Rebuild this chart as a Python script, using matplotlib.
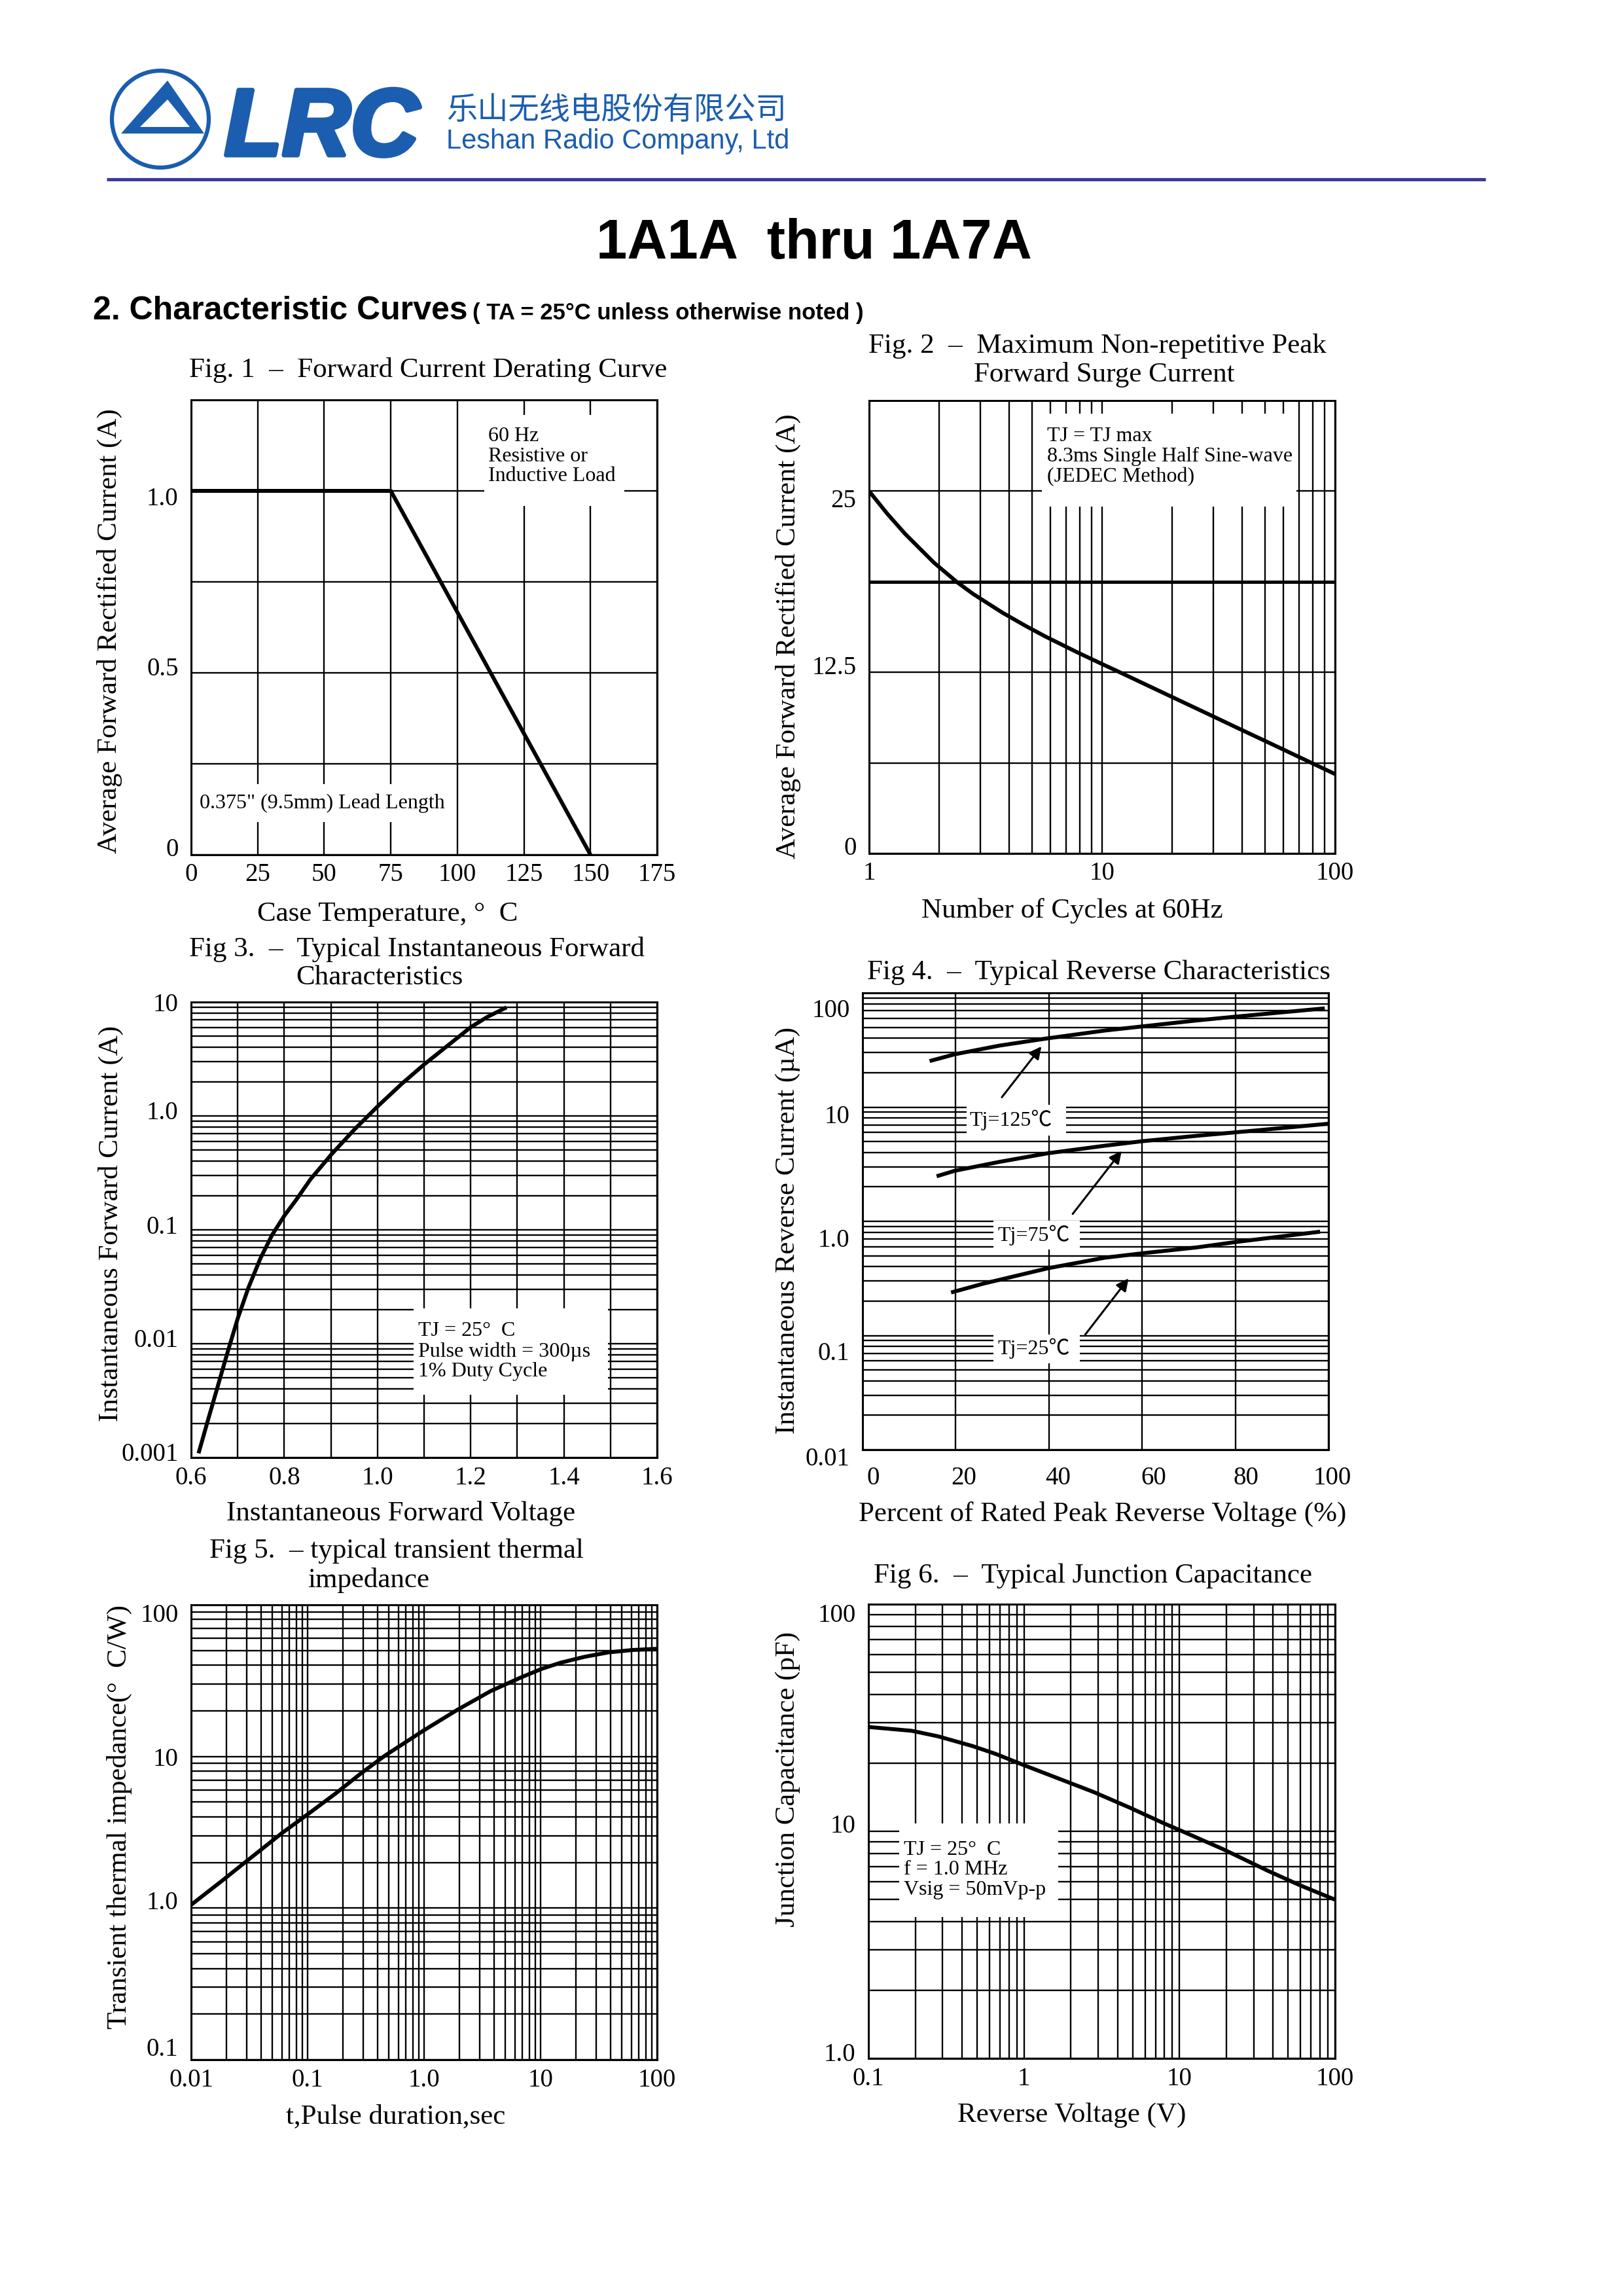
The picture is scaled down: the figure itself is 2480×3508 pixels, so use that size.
import matplotlib
matplotlib.use("Agg")
import matplotlib.pyplot as plt
import matplotlib.patheffects as pe
from matplotlib.patches import Circle, Polygon, Rectangle
from matplotlib.ticker import NullFormatter
from matplotlib.transforms import ScaledTranslation

plt.rcParams["font.family"] = ["Liberation Serif", "Noto Sans CJK SC"]

W, H = 2480, 3508

# Fig. 1 - forward current derating curve
fig1_temp = [0, 75, 150]
fig1_current = [1.0, 1.0, 0.0]
fig1_xticks = [0, 25, 50, 75, 100, 125, 150, 175]
fig1_xlabels = ["0", "25", "50", "75", "100", "125", "150", "175"]
fig1_yticks = [0, 0.25, 0.5, 0.75, 1.0]
fig1_ylabels = ["0", "", "0.5", "", "1.0"]

# Fig. 2 - peak forward surge current
fig2_cycles = [1, 1.2, 1.43, 1.9, 2.39, 2.8, 3.73, 4.7, 5.68, 7.78, 10, 11.6,
               19.3, 28.3, 37.9, 47.5, 57.7, 79, 100]
fig2_current = [25.0, 23.42, 22.04, 20.06, 18.71, 17.90, 16.62, 15.70, 14.99, 13.90, 13.07, 12.59,
                10.91, 9.65, 8.68, 7.94, 7.30, 6.26, 5.48]
fig2_xticks = [1, 10, 100]
fig2_xlabels = ["1", "10", "100"]
fig2_xgrid = [2, 3, 4, 5, 6, 7, 8, 9, 20, 30, 40, 50, 60, 70, 80, 90]
fig2_yticks = [0, 6.25, 12.5, 18.75, 25]
fig2_ylabels = ["0", "", "12.5", "", "25"]

# Fig. 3 - forward characteristics
fig3_volt = [0.616, 0.635, 0.657, 0.679, 0.700, 0.723, 0.749, 0.774, 0.801, 0.825,
             0.856, 0.901, 0.951, 1.001, 1.053, 1.101, 1.147, 1.200, 1.236, 1.277]
fig3_current = [0.00109, 0.00205, 0.0042, 0.0086, 0.0166, 0.0310, 0.0564, 0.0904, 0.1346, 0.182,
                0.277, 0.459, 0.764, 1.22, 1.93, 2.85, 4.03, 6.01, 7.41, 8.98]
fig3_xticks = [0.6, 0.8, 1.0, 1.2, 1.4, 1.6]
fig3_xlabels = ["0.6", "0.8", "1.0", "1.2", "1.4", "1.6"]
fig3_xgrid = [0.7, 0.9, 1.1, 1.3, 1.5]
fig3_yticks = [0.001, 0.01, 0.1, 1, 10]
fig3_ylabels = ["0.001", "0.01", "0.1", "1.0", "10"]

# Fig. 4 - reverse characteristics
fig4_pct_125 = [14.4, 19.8, 29.3, 39.9, 52.0, 59.9, 71.6, 80.0, 99.2]
fig4_ir_125 = [25.3, 29.0, 34.5, 40.1, 46.8, 50.8, 57.3, 61.9, 73.2]
fig4_pct_75 = [15.9, 19.8, 29.3, 39.9, 52.0, 59.9, 71.6, 80.0, 100]
fig4_ir_75 = [2.48, 2.77, 3.31, 3.95, 4.59, 5.02, 5.60, 6.01, 7.15]
fig4_pct_25 = [19.0, 26.0, 39.9, 52.0, 59.9, 71.6, 80.0, 98.2]
fig4_ir_25 = [0.238, 0.285, 0.389, 0.480, 0.524, 0.590, 0.658, 0.811]
fig4_xticks = [0, 20, 40, 60, 80, 100]
fig4_xlabels = ["0", "20", "40", "60", "80", "100"]
fig4_yticks = [0.01, 0.1, 1, 10, 100]
fig4_ylabels = ["0.01", "0.1", "1.0", "10", "100"]
fig4_arrows = {
    "125": ((29.9, 12.2), (38.4, 34.0)),
    "75": ((45.1, 1.16), (55.6, 4.13)),
    "25": ((47.8, 0.102), (57.1, 0.316)),
}

# Fig. 5 - transient thermal impedance
fig5_t = [0.01, 0.01875, 0.0285, 0.0446, 0.0601, 0.1, 0.1767, 0.285, 0.459, 1.0,
          1.93, 3.73, 6.78, 10.2, 14.8, 23.8, 38.4, 62, 100]
fig5_z = [1.05, 1.53, 1.98, 2.60, 3.12, 4.15, 5.75, 7.70, 10.1, 14.9,
          20.3, 27.0, 33.2, 37.8, 41.5, 45.4, 48.6, 50.4, 51.3]
fig5_xticks = [0.01, 0.1, 1, 10, 100]
fig5_xlabels = ["0.01", "0.1", "1.0", "10", "100"]
fig5_yticks = [0.1, 1, 10, 100]
fig5_ylabels = ["0.1", "1.0", "10", "100"]

# Fig. 6 - junction capacitance
fig6_v = [0.1, 0.19, 0.28, 0.47, 0.66, 0.99, 1.9, 2.8, 4.8, 7.8, 10.6, 19, 37, 59, 100]
fig6_c = [28.8, 27.7, 26.2, 23.7, 21.9, 19.6, 16.5, 14.9, 12.7, 10.9, 9.95, 8.35, 6.7, 5.8, 5.0]
fig6_xticks = [0.1, 1, 10, 100]
fig6_xlabels = ["0.1", "1", "10", "100"]
fig6_yticks = [1, 10, 100]
fig6_ylabels = ["1.0", "10", "100"]


def log_minor(lo, hi):
    return [m * 10.0 ** e for e in range(lo, hi) for m in range(2, 10)]


fig = plt.figure(figsize=(W / 100, H / 100), dpi=100)
bg = fig.add_axes([0, 0, 1, 1])
bg.set_xlim(0, W)
bg.set_ylim(H, 0)
bg.axis("off")

# header
blue = "#1B5DAE"
bg.add_patch(Circle((245, 182), 74, fill=False, ec=blue, lw=4.5))
bg.add_patch(Polygon([(256, 123), (185, 204), (312, 204)], closed=True, fc=blue, ec="none"))
bg.add_patch(Polygon([(256, 152), (214, 194), (290, 194)], closed=True, fc="white", ec="none"))
bg.text(343, 237, "LRC", family="Liberation Sans", fontsize=104, fontweight="bold",
        style="italic", color=blue, va="baseline",
        path_effects=[pe.withStroke(linewidth=5, foreground=blue)])
bg.text(682, 169, "乐山无线电股份有限公司", family="Noto Sans CJK SC", fontsize=34,
        color=blue, va="center")
bg.text(682, 227, "Leshan Radio Company, Ltd", family="Liberation Sans", fontsize=30,
        color=blue, va="baseline")
bg.plot([163, 2270], [274, 274], color="#3B3B98", lw=3.6, solid_capstyle="butt")
bg.text(1244, 395, "1A1A  thru 1A7A", family="Liberation Sans", fontsize=61,
        fontweight="bold", ha="center", va="baseline")
bg.text(142, 488, "2. Characteristic Curves", family="Liberation Sans", fontsize=36,
        fontweight="bold", va="baseline")
bg.text(722, 488, "( TA = 25°C unless otherwise noted )", family="Liberation Sans",
        fontsize=25, fontweight="bold", va="baseline")


def make_axes(box):
    l, t, r, b = box
    ax = fig.add_axes([l / W, 1 - b / H, (r - l) / W, (b - t) / H])
    for s in ax.spines.values():
        s.set_linewidth(2.2)
    ax.tick_params(which="both", length=0, labelsize=28)
    ax.tick_params(axis="x", pad=9)
    ax.tick_params(axis="y", pad=14)
    ax.set_axisbelow(True)
    return ax


def finish(ax):
    ax.grid(which="both", color="black", linewidth=1.7)
    ax.xaxis.set_minor_formatter(NullFormatter())
    ax.yaxis.set_minor_formatter(NullFormatter())


def shift_labels(labels, offsets):
    # offsets in pixels, dy > 0 moves down
    for lab, (dx, dy) in zip(labels, offsets):
        lab.set_transform(lab.get_transform()
                          + ScaledTranslation(dx / 100, -dy / 100, fig.dpi_scale_trans))


def white_box(ax, x0, y0, x1, y1):
    ax.add_patch(Rectangle((x0, y0), x1 - x0, y1 - y0, transform=ax.transAxes,
                           fc="white", ec="none", zorder=1.5))


def note(ax, x, y, s, va="center"):
    ax.text(x, y, s, transform=ax.transAxes, fontsize=23, va=va, ha="left",
            linespacing=1.08, zorder=4)


def ylabel(x, y, s):
    bg.text(x, y, s, rotation=90, ha="center", va="center", fontsize=31)


def label(x, y, s, ha="left"):
    bg.text(x, y, s, ha=ha, va="baseline", fontsize=31)


curve = dict(color="black", lw=4.3, zorder=3, solid_capstyle="butt", solid_joinstyle="round")

# ---- Fig. 1
ax1 = make_axes((292, 611, 1004, 1306))
ax1.plot(fig1_temp, fig1_current, **curve)
ax1.set_xlim(0, 175)
ax1.set_ylim(0, 1.25)
ax1.set_xticks(fig1_xticks, fig1_xlabels)
ax1.set_yticks(fig1_yticks, fig1_ylabels)
finish(ax1)
shift_labels(ax1.get_yticklabels(), [(0, -12), (0, 0), (0, -10), (0, 0), (0, 8)])
white_box(ax1, 0.629, 0.767, 0.930, 0.967)
note(ax1, 0.638, 0.876, "60 Hz\nResistive or\nInductive Load")
white_box(ax1, 0.010, 0.072, 0.555, 0.155)
note(ax1, 0.018, 0.114, "0.375\" (9.5mm) Lead Length")
label(289, 576, "Fig. 1  –  Forward Current Derating Curve")
label(393, 1407, "Case Temperature, °  C")
ylabel(167, 964, "Average Forward Rectified Current (A)")

# ---- Fig. 2
ax2 = make_axes((1328, 612, 2040, 1304))
ax2.plot(fig2_cycles, fig2_current, **curve)
ax2.set_xscale("log")
ax2.set_xlim(1, 100)
ax2.set_ylim(0, 31.25)
ax2.set_xticks(fig2_xticks, fig2_xlabels)
ax2.set_xticks(fig2_xgrid, minor=True)
ax2.set_yticks(fig2_yticks, fig2_ylabels)
finish(ax2)
ax2.yaxis.get_gridlines()[3].set_linewidth(3.6)
shift_labels(ax2.get_yticklabels(), [(0, -12), (0, 0), (0, -11), (0, 0), (0, 11)])
white_box(ax2, 0.371, 0.766, 0.917, 0.971)
note(ax2, 0.382, 0.876, "TJ = TJ max\n8.3ms Single Half Sine-wave\n(JEDEC Method)")
label(1327, 539, "Fig. 2  –  Maximum Non-repetitive Peak")
label(1488, 583, "Forward Surge Current")
label(1408, 1402, "Number of Cycles at 60Hz")
ylabel(1204, 972, "Average Forward Rectified Current (A)")

# ---- Fig. 3
ax3 = make_axes((292, 1531, 1004, 2227))
ax3.plot(fig3_volt, fig3_current, **curve)
ax3.set_yscale("log")
ax3.set_xlim(0.6, 1.6)
ax3.set_ylim(0.001, 10)
ax3.set_xticks(fig3_xticks, fig3_xlabels)
ax3.set_xticks(fig3_xgrid, minor=True)
ax3.set_yticks(fig3_yticks, fig3_ylabels)
ax3.set_yticks(log_minor(-3, 1), minor=True)
finish(ax3)
shift_labels(ax3.get_yticklabels(), [(0, -9), (0, -9), (0, -8), (0, -9), (0, 0)])
white_box(ax3, 0.477, 0.138, 0.895, 0.328)
note(ax3, 0.487, 0.233, "TJ = 25°  C\nPulse width = 300µs\n1% Duty Cycle")
label(289, 1461, "Fig 3.  –  Typical Instantaneous Forward")
label(452, 1504, "Characteristics")
label(346, 2323, "Instantaneous Forward Voltage")
ylabel(169, 1869, "Instantaneous Forward Current (A)")

# ---- Fig. 4
ax4 = make_axes((1318, 1517, 2030, 2215))
ax4.plot(fig4_pct_125, fig4_ir_125, **curve)
ax4.plot(fig4_pct_75, fig4_ir_75, **curve)
ax4.plot(fig4_pct_25, fig4_ir_25, **curve)
ax4.set_yscale("log")
ax4.set_xlim(0, 100)
ax4.set_ylim(0.01, 100)
ax4.set_xticks(fig4_xticks, fig4_xlabels)
ax4.set_yticks(fig4_yticks, fig4_ylabels)
ax4.set_yticks(log_minor(-2, 2), minor=True)
finish(ax4)
shift_labels(ax4.get_yticklabels(), [(0, 10), (0, 23), (0, 25), (0, 10), (0, 23)])
shift_labels(ax4.get_xticklabels(), [(16, 12), (12, 12), (14, 12), (18, 12), (16, 12), (6, 12)])
white_box(ax4, 0.223, 0.688, 0.437, 0.755)
note(ax4, 0.230, 0.722, "Tj=125℃")
white_box(ax4, 0.281, 0.438, 0.466, 0.501)
note(ax4, 0.290, 0.470, "Tj=75℃")
white_box(ax4, 0.281, 0.189, 0.466, 0.252)
note(ax4, 0.290, 0.221, "Tj=25℃")
for tail, head in fig4_arrows.values():
    ax4.annotate("", xy=head, xytext=tail,
                 arrowprops=dict(arrowstyle="-|>", color="black", lw=2.2,
                                 mutation_scale=28, shrinkA=0, shrinkB=0), zorder=4)
label(1325, 1496, "Fig 4.  –  Typical Reverse Characteristics")
label(1312, 2324, "Percent of Rated Peak Reverse Voltage (%)")
ylabel(1204, 1880, "Instantaneous Reverse Current (µA)")

# ---- Fig. 5
ax5 = make_axes((292, 2452, 1004, 3147))
ax5.plot(fig5_t, fig5_z, **curve)
ax5.set_xscale("log")
ax5.set_yscale("log")
ax5.set_xlim(0.01, 100)
ax5.set_ylim(0.1, 100)
ax5.set_xticks(fig5_xticks, fig5_xlabels)
ax5.set_xticks(log_minor(-2, 2), minor=True)
ax5.set_yticks(fig5_yticks, fig5_ylabels)
ax5.set_yticks(log_minor(-1, 2), minor=True)
finish(ax5)
shift_labels(ax5.get_yticklabels(), [(0, -20), (0, -12), (0, 0), (0, 12)])
label(320, 2380, "Fig 5.  – typical transient thermal")
label(470, 2425, "impedance")
label(437, 3244, "t,Pulse duration,sec")
ylabel(182, 2776, "Transient thermal impedance(°  C/W)")

# ---- Fig. 6
ax6 = make_axes((1327, 2451, 2040, 3145))
ax6.plot(fig6_v, fig6_c, **curve)
ax6.set_xscale("log")
ax6.set_yscale("log")
ax6.set_xlim(0.1, 100)
ax6.set_ylim(1, 100)
ax6.set_xticks(fig6_xticks, fig6_xlabels)
ax6.set_xticks(log_minor(-1, 2), minor=True)
ax6.set_yticks(fig6_yticks, fig6_ylabels)
ax6.set_yticks(log_minor(0, 2), minor=True)
finish(ax6)
shift_labels(ax6.get_yticklabels(), [(0, -10), (0, -12), (0, 13)])
white_box(ax6, 0.066, 0.311, 0.407, 0.517)
note(ax6, 0.076, 0.415, "TJ = 25°  C\nf = 1.0 MHz\nVsig = 50mVp-p")
label(1335, 2418, "Fig 6.  –  Typical Junction Capacitance")
label(1463, 3242, "Reverse Voltage (V)")
ylabel(1204, 2718, "Junction Capacitance (pF)")

fig.savefig("out.png", dpi=100)
